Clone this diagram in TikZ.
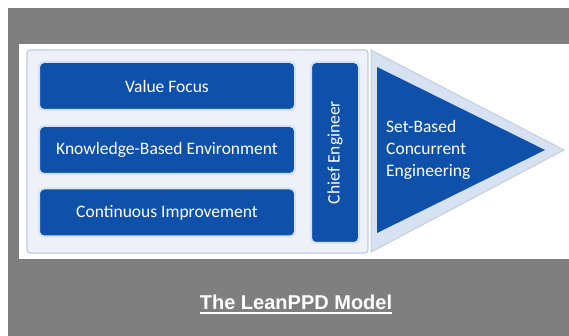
\documentclass[tikz,border=0pt]{standalone}
\usepackage{fontspec}
\setmainfont{Carlito}
\newfontfamily\arialfont{Liberation Sans}
\definecolor{bgray}{RGB}{127,127,127}
\definecolor{boxblue}{RGB}{14,80,170}
\definecolor{edgeblue}{RGB}{214,226,242}
\definecolor{framegray}{RGB}{196,205,218}
\definecolor{framefill}{RGB}{238,242,248}
\begin{document}
\begin{tikzpicture}[x=1pt,y=-1pt,
  pillar/.style={fill=boxblue, draw=edgeblue, line width=2pt, rounded corners=5pt, inner sep=0pt},
  lbl/.style={text=white, font=\fontsize{17.5}{22}\selectfont},
  hbox/.style={pillar, lbl, minimum width=256pt, minimum height=48pt},
  frameline/.style={draw=framegray, line width=1.2pt}]
\useasboundingbox (0,0) rectangle (569,336);
\fill[white] (0,0) rectangle (569,336);
\fill[bgray] (8,8) rectangle (569,336);
\fill[white] (19,44) rectangle (569,259);
% frame of the left group
\path[frameline, fill=framefill, rounded corners=3pt] (27,50) rectangle (368,253);
% left boxes
\node[hbox] (vf) at (167,86) {Value Focus};
\node[hbox] (kb) at (167,150) {Knowledge-Based Environment};
\node[hbox] (ci) at (167,212.5) {Continuous Improvement};
% chief engineer
\node[pillar, minimum width=48pt, minimum height=181pt] (ce) at (335,152.5) {};
\node[lbl, rotate=90] (cet) at (ce.center) {Chief Engineer};
% triangle
\path[frameline, fill=edgeblue, line width=1pt] (371,50) -- (564,150) -- (371,252) -- cycle;
\fill[boxblue] (377,67) -- (545,150) -- (377,233) -- cycle;
\node[lbl, anchor=west, align=left, inner sep=0pt] (sb) at (386,150) {Set-Based\\Concurrent\\Engineering};
% title
\node[text=white, font=\arialfont\bfseries\fontsize{20}{24}\selectfont, inner sep=0pt, anchor=base] (title) at (296,309) {The LeanPPD Model};
\draw[white, line width=1.5pt] ([yshift=-4pt]title.base west) -- ([yshift=-4pt]title.base east);
\end{tikzpicture}
\end{document}
